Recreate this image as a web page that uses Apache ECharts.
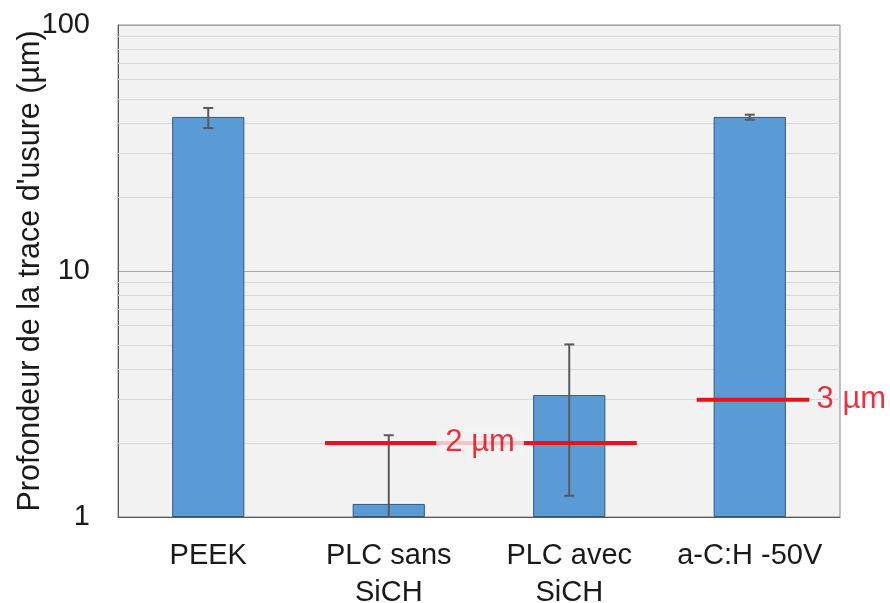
<!DOCTYPE html>
<html><head><meta charset="utf-8">
<script src="https://cdn.jsdelivr.net/npm/echarts@6/dist/echarts.min.js"></script>
<style>html,body{margin:0;padding:0;background:#fff}#c{width:890px;height:603px}</style>
</head><body><div id="c"></div>
<script>
const categories = ['PEEK', 'PLC sans\nSiCH', 'PLC avec\nSiCH', 'a-C:H -50V'];
const depth = [42.3, 1.13, 3.13, 42.3];
const errLow = [38.1, 0.5, 1.22, 41.2];
const errHigh = [46.0, 2.15, 5.03, 43.2];
const yTicks = [1, 10, 100];
const minorGrid = [2,3,4,5,6,7,8,9,20,30,40,50,60,70,80,90];
// reference levels: [label, value, xStart, xEnd, labelX] (x in category units on 0..4 scale)
const refLevels = [
  ['2 µm', 2, 1.147, 2.874, 2.006],
  ['3 µm', 3, 3.206, 3.83, 3.87]
];
const FONT = 'Liberation Sans, Arial, sans-serif';
const chart = echarts.init(document.getElementById('c'));
const series = [];
series.push({
  type: 'line', xAxisIndex: 1, yAxisIndex: 0, data: [], z: 1, silent: true,
  markLine: {
    silent: true, symbol: 'none', label: {show: false}, z: 1,
    lineStyle: {color: '#d9d9d9', width: 1, type: 'solid'},
    emphasis: {disabled: true},
    data: minorGrid.map(v => ({yAxis: v}))
  }
});
series.push({
  type: 'bar', data: depth, barWidth: '40%', z: 2,
  itemStyle: {color: '#5b9bd5', borderColor: '#35597a', borderWidth: 1}
});
series.push({
  type: 'custom', z: 3,
  data: categories.map((c, i) => [i, errLow[i], errHigh[i]]),
  renderItem: function (params, api) {
    const lo = api.coord([api.value(0), api.value(1)]);
    const hi = api.coord([api.value(0), api.value(2)]);
    const bottom = api.coord([api.value(0), 1])[1];
    const loY = Math.min(lo[1], bottom);
    const x = lo[0], w = 5;
    const style = {stroke: '#595959', lineWidth: 2};
    const children = [
      {type: 'line', shape: {x1: x, y1: hi[1], x2: x, y2: loY}, style},
      {type: 'line', shape: {x1: x - w, y1: hi[1], x2: x + w, y2: hi[1]}, style}
    ];
    if (lo[1] <= bottom) children.push({type: 'line', shape: {x1: x - w, y1: lo[1], x2: x + w, y2: lo[1]}, style});
    return {type: 'group', children};
  }
});
refLevels.forEach(r => {
  series.push({
    type: 'line', xAxisIndex: 1, yAxisIndex: 0, z: 4, silent: true,
    data: [[r[2], r[1]], [r[3], r[1]]], symbol: 'none',
    lineStyle: {color: '#e8141c', width: 4}
  });
  series.push({
    type: 'scatter', xAxisIndex: 1, yAxisIndex: 0, z: 5, silent: true,
    data: [[r[4], r[1]]], symbolSize: 0,
    label: {
      show: true, formatter: r[0], position: r[0] === '2 µm' ? 'inside' : 'right',
      distance: 0,
      color: '#e3000f', fontSize: 31, fontFamily: FONT,
      backgroundColor: r[0] === '2 µm' ? '#f2f2f2' : 'transparent',
      padding: r[0] === '2 µm' ? [0, 9] : 0
    }
  });
});
chart.setOption({
  animation: false,
  grid: {left: 118, right: 50, top: 25, bottom: 86, containLabel: false, outerBoundsMode: 'none',
    show: true, backgroundColor: '#f2f2f2', borderColor: '#8c8c8c', borderWidth: 1},
  xAxis: [{
    type: 'category', data: categories,
    axisLine: {show: true, lineStyle: {color: '#595959', width: 1}},
    axisTick: {show: false},
    axisLabel: {interval: 0, fontSize: 29, fontFamily: FONT, color: '#1a1a1a', lineHeight: 37, margin: 20}
  }, {
    type: 'value', min: 0, max: 4, show: false
  }],
  yAxis: {
    type: 'log', logBase: 10, min: 1, max: 100,
    axisLine: {show: true, lineStyle: {color: '#595959'}},
    axisTick: {show: false},
    axisLabel: {fontSize: 29, fontFamily: FONT, color: '#1a1a1a', margin: 28,
      formatter: v => yTicks.includes(Math.round(v)) ? String(Math.round(v)) : ''},
    splitLine: {show: true, lineStyle: {color: '#a6a6a6', width: 1}},
    name: "Profondeur de la trace d'usure (µm)", nameLocation: 'middle', nameGap: 72,
    nameMoveOverlap: false,
    nameTextStyle: {fontSize: 30.5, fontFamily: FONT, color: '#1a1a1a'}
  },
  series
});
</script></body></html>
